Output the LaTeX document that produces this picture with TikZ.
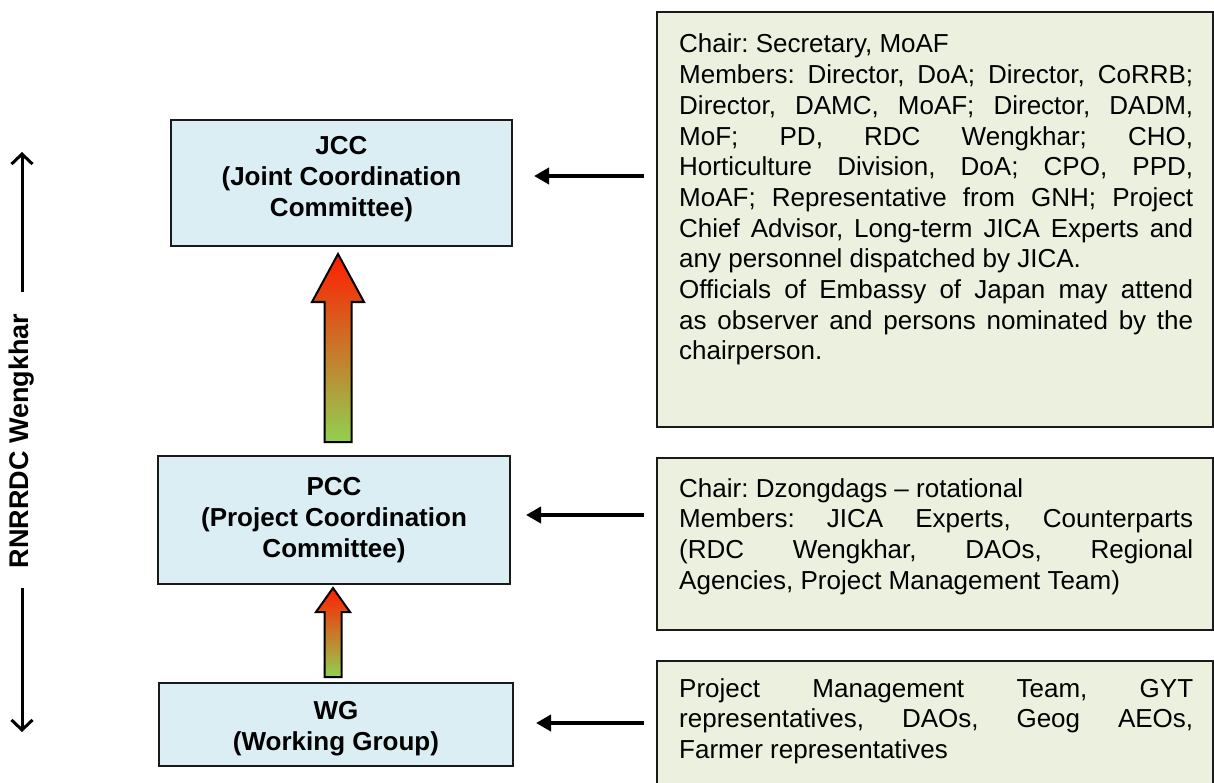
\documentclass[tikz,border=0pt]{standalone}
\usepackage{fontspec}
\setmainfont{Liberation Sans}
\usetikzlibrary{arrows.meta,calc}

\definecolor{orgfill}{HTML}{DBEEF4}
\definecolor{notefill}{HTML}{EBF1DE}
\definecolor{edge}{HTML}{1A1A1A}
\definecolor{arrowtop}{RGB}{255,30,0}
\definecolor{arrowmid}{RGB}{222,128,55}
\definecolor{arrowbot}{RGB}{146,208,80}

\frenchspacing
\newlength\notew
\setlength\notew{514pt}
% one fully justified line of a note
\newcommand\jline[1]{\makebox[\notew][s]{#1}}

% thick shaded block arrow: #1 foot point, #2 tip point, #3 half shaft width,
% #4 half head width, #5 head length
\newcommand\fatarrow[5]{%
  \shadedraw[fat] let \p1=#1, \p2=#2 in
    (\x1-#3pt,\y1) -- (\x1+#3pt,\y1) -- (\x1+#3pt,\y2-#5pt) -- (\x1+#4pt,\y2-#5pt)
    -- (\x1,\y2) -- (\x1-#4pt,\y2-#5pt) -- (\x1-#3pt,\y2-#5pt) -- cycle;}

\begin{document}
\begin{tikzpicture}[x=1pt,y=-1pt,
  orgbox/.style={draw=edge, line width=2pt, fill=orgfill, align=center,
    inner sep=0pt, font=\fontsize{26}{31}\selectfont\bfseries},
  notebox/.style={draw=edge, line width=1.6pt, fill=notefill, inner sep=0pt},
  notetext/.style={anchor=base west, inner sep=0pt,
    font=\fontsize{26}{30.7}\selectfont},
  feed/.style={line width=4.6pt, -{Triangle[length=15pt,width=16pt]}},
  span/.style={line width=3pt, -{Straight Barb[length=10pt,width=21pt]}},
  fat/.style={draw=black, line width=2pt, line join=miter,
    top color=arrowtop, middle color=arrowmid, bottom color=arrowbot}]

\useasboundingbox (0,0) rectangle (1214,783);

% committees
\node[orgbox, minimum width=341pt, minimum height=126pt] (jcc) at (341.5,183)
  {JCC\\(Joint Coordination\\Committee)\rule[-13.5pt]{0pt}{13.5pt}};
\node[orgbox, minimum width=352pt, minimum height=128pt] (pcc) at (334,520)
  {PCC\\(Project Coordination\\Committee)};
\node[orgbox, minimum width=354pt, minimum height=83pt] (wg) at (336,724.5)
  {\rule{0pt}{26pt}WG\\(Working Group)};

% membership notes
\node[notebox, minimum width=556pt, minimum height=415pt] (info1) at (935,219.5) {};
\node[notebox, minimum width=556pt, minimum height=172pt] (info2) at (935,544) {};
\node[notebox, minimum width=556pt, minimum height=160pt] (info3) at (935,741) {};

\node[notetext] (txt1) at (679,53) {\parbox[t]{\notew}{%
  Chair: Secretary, MoAF\\
  \jline{Members: Director, DoA; Director, CoRRB;}\\
  \jline{Director, DAMC, MoAF; Director, DADM,}\\
  \jline{MoF; PD, RDC Wengkhar; CHO,}\\
  \jline{Horticulture Division, DoA; CPO, PPD,}\\
  \jline{MoAF; Representative from GNH; Project}\\
  \jline{Chief Advisor, Long-term JICA Experts and}\\
  any personnel dispatched by JICA.\\
  \jline{Officials of Embassy of Japan may attend}\\
  \jline{as observer and persons nominated by the}\\
  chairperson.}};

\node[notetext] (txt2) at (679,497) {\parbox[t]{\notew}{%
  Chair: Dzongdags -- rotational\\
  \jline{Members: JICA Experts, Counterparts}\\
  \jline{(RDC Wengkhar, DAOs, Regional}\\
  Agencies, Project Management Team)}};

\node[notetext] (txt3) at (679,697) {\parbox[t]{\notew}{%
  \jline{Project Management Team, GYT}\\
  \jline{representatives, DAOs, Geog AEOs,}\\
  Farmer representatives}};

% notes feeding the committees
\coordinate (f1) at ($(jcc.east)+(21,-7)$);
\coordinate (f2) at ($(pcc.east)+(15,-5)$);
\coordinate (f3) at ($(wg.east)+(22,-1.5)$);
\draw[feed] ($(f1 -| info1.west)+(-12,0)$) -- (f1);
\draw[feed] ($(f2 -| info2.west)+(-12,0)$) -- (f2);
\draw[feed] ($(f3 -| info3.west)+(-12,0)$) -- (f3);

% reporting upwards
\fatarrow{($(pcc.north)+(4,-13)$)}{($(jcc.south)+(0,7)$)}{13.5}{26}{48}
\fatarrow{($(wg.north)+(-3,-5)$)}{($(pcc.south)+(0,3)$)}{8.5}{17}{24}

% span of the centre
\node[rotate=90, inner sep=0pt, font=\fontsize{27}{30}\selectfont\bfseries]
  (rn) at (22,441) {RNRRDC Wengkhar};
\coordinate (top) at (22,152);
\coordinate (bot) at (22,732);
\draw[span] ($(rn.east)+(0,-22)$) -- (top);
\draw[span] ($(rn.west)+(0,20)$) -- (bot);
\end{tikzpicture}
\end{document}
